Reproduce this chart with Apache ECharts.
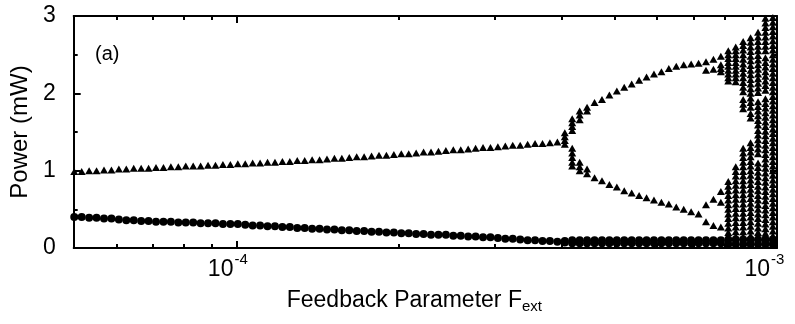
<!DOCTYPE html>
<html>
<head>
<meta charset="utf-8">
<script src="https://cdn.jsdelivr.net/npm/echarts@6/dist/echarts.min.js"></script>
<style>
html,body{margin:0;padding:0;background:#fff}
#chart{width:795px;height:324px}
</style>
</head>
<body>
<div id="chart"></div>
<script>
// Feedback parameter sweep (units of 1e-5), log-spaced
const feedbackGrid = [
  5.012, 5.173, 5.340, 5.511, 5.689, 5.872, 6.061, 6.256, 6.457, 6.665,
  6.879, 7.100, 7.329, 7.564, 7.808, 8.059, 8.318, 8.586, 8.862, 9.147,
  9.441, 9.745, 10.059, 10.382, 10.716, 11.061, 11.417, 11.784, 12.163, 12.554,
  12.958, 13.375, 13.805, 14.249, 14.707, 15.180, 15.668, 16.172, 16.692, 17.229,
  17.783, 18.355, 18.945, 19.554, 20.183, 20.832, 21.502, 22.193, 22.907, 23.644,
  24.404, 25.189, 25.999, 26.835, 27.698, 28.589, 29.508, 30.457, 31.436, 32.447,
  33.491, 34.57, 35.68, 36.83, 38.01, 39.24, 40.50, 41.80, 43.15, 44.53,
  45.97, 47.45, 48.97, 50.55, 52.17, 53.85, 55.58, 57.37, 59.21, 61.12,
  63.08, 65.11, 67.21, 69.37, 71.60, 73.90, 76.28, 78.73, 81.26, 83.88,
  86.58, 89.36, 92.24, 95.20, 98.26
];

// Power maxima on the single stable branch (sweep steps 0..65)
const stableMax = [
  0.99, 0.99, 1.00, 1.00, 1.01, 1.01, 1.02, 1.02, 1.03, 1.03,
  1.03, 1.04, 1.04, 1.05, 1.05, 1.06, 1.06, 1.06, 1.07, 1.07,
  1.08, 1.08, 1.09, 1.09, 1.10, 1.10, 1.11, 1.11, 1.12, 1.12,
  1.13, 1.13, 1.14, 1.14, 1.15, 1.16, 1.16, 1.17, 1.18, 1.18,
  1.19, 1.20, 1.20, 1.21, 1.22, 1.22, 1.23, 1.24, 1.24, 1.25,
  1.26, 1.27, 1.27, 1.28, 1.29, 1.30, 1.30, 1.31, 1.32, 1.33,
  1.33, 1.34, 1.35, 1.35, 1.36, 1.37
];

// Power minima on the stable branch (sweep steps 0..65)
const stableMin = [
  0.40, 0.40, 0.39, 0.39, 0.38, 0.38, 0.37, 0.36, 0.36, 0.35,
  0.35, 0.34, 0.34, 0.34, 0.33, 0.33, 0.33, 0.32, 0.32, 0.32,
  0.31, 0.31, 0.31, 0.30, 0.29, 0.29, 0.28, 0.28, 0.27, 0.27,
  0.26, 0.26, 0.25, 0.25, 0.24, 0.24, 0.23, 0.23, 0.22, 0.22,
  0.21, 0.21, 0.20, 0.20, 0.19, 0.19, 0.18, 0.18, 0.17, 0.17,
  0.17, 0.16, 0.16, 0.15, 0.15, 0.14, 0.14, 0.13, 0.12, 0.12,
  0.11, 0.10, 0.10, 0.09, 0.09, 0.08
];

// Maxima after the bifurcation, period-2 and period-4 (sweep steps 66..87)
const branchMax = [
  [1.49, 1.44, 1.39, 1.34],
  [1.67, 1.62, 1.57, 1.52, 1.29, 1.23, 1.17, 1.11, 1.06],
  [1.77, 1.72, 1.66, 1.11, 1.05, 1.00],
  [1.82, 1.77, 1.02, 0.96],
  [1.88, 0.91],
  [1.92, 0.87],
  [1.98, 0.82],
  [2.03, 0.79],
  [2.08, 0.74],
  [2.12, 0.71],
  [2.17, 0.68],
  [2.21, 0.65],
  [2.25, 0.62],
  [2.28, 0.59],
  [2.32, 0.57],
  [2.35, 0.53],
  [2.37, 0.50],
  [2.38, 0.47],
  [2.39, 0.44],
  [2.41, 2.30, 0.56, 0.34],
  [2.44, 2.31, 0.63, 0.29],
  [2.48, 2.37, 2.32, 2.28, 0.73, 0.59, 0.27]
];

// Maxima in the chaotic regime (sweep steps 88..94)
const chaosMax = [
  [2.55, 2.50, 2.45, 2.40, 2.35, 2.30, 2.25, 2.20, 2.16,
   0.86, 0.80, 0.74, 0.68, 0.62, 0.56, 0.50, 0.44, 0.38, 0.32, 0.26, 0.20, 0.14],
  [2.60, 2.55, 2.50, 2.45, 2.40, 2.35, 2.30, 2.25, 2.20, 2.15,
   1.05, 0.99, 0.93, 0.87, 0.81, 0.75, 0.69, 0.63, 0.57, 0.51, 0.45, 0.39, 0.33, 0.27, 0.21, 0.15],
  [2.67, 2.62, 2.56, 2.50, 2.44, 2.38, 2.32, 2.26, 2.20, 2.14, 2.08, 2.02,
   1.92, 1.86, 1.80,
   1.29, 1.23, 1.17, 1.11, 1.05, 0.99, 0.93, 0.87, 0.81, 0.75, 0.69, 0.63, 0.57, 0.51, 0.45,
   0.39, 0.33, 0.27, 0.21, 0.15],
  [2.72, 2.66, 2.60, 2.54, 2.48, 2.42, 2.36, 2.30, 2.24, 2.18, 2.12, 2.06, 2.00, 1.94, 1.88, 1.82,
   1.74, 1.68,
   1.36, 1.30, 1.24, 1.18, 1.12, 1.06, 1.00, 0.94, 0.88, 0.82, 0.76, 0.70, 0.64, 0.58, 0.52,
   0.46, 0.40, 0.34, 0.28, 0.22, 0.16],
  [2.79, 2.73, 2.67, 2.61, 2.55, 2.49, 2.43, 2.37, 2.31, 2.25, 2.19, 2.13, 2.07, 2.01,
   1.89, 1.83, 1.77, 1.71, 1.65, 1.59, 1.52, 1.46, 1.40, 1.34, 1.28, 1.22,
   1.10, 1.04, 0.98, 0.92, 0.86, 0.80, 0.74, 0.68, 0.62, 0.56, 0.50, 0.44, 0.38, 0.32, 0.26, 0.20, 0.14],
  [2.97, 2.91, 2.85, 2.79, 2.73, 2.67, 2.61, 2.55,
   2.46, 2.40, 2.34, 2.28, 2.22, 2.16, 2.10, 2.04,
   1.93, 1.87, 1.81, 1.75, 1.69, 1.63, 1.57, 1.51, 1.45, 1.39, 1.33, 1.27, 1.21, 1.15, 1.09,
   1.03, 0.97, 0.91, 0.85, 0.79, 0.73, 0.67, 0.61, 0.55, 0.49, 0.43, 0.37, 0.31, 0.25, 0.19, 0.13],
  [2.98, 2.92, 2.86, 2.80, 2.74, 2.68, 2.62, 2.56, 2.50, 2.44, 2.38, 2.32, 2.26, 2.20, 2.14,
   2.08, 2.02, 1.96, 1.90, 1.84, 1.78, 1.72, 1.66, 1.60, 1.54, 1.48, 1.42, 1.36, 1.30, 1.24,
   1.18, 1.12, 1.06, 1.00, 0.94, 0.88, 0.82, 0.76, 0.70, 0.64, 0.58, 0.52, 0.46, 0.40, 0.34,
   0.28, 0.22, 0.16, 0.10]
];

// Minima after the bifurcation (sweep steps 66..94)
const minAfterUpper = [
  0.09, 0.10, 0.10, 0.10, 0.10, 0.10, 0.10, 0.10, 0.10, 0.10,
  0.10, 0.10, 0.10, 0.10, 0.10, 0.10, 0.10, 0.10, 0.10, 0.10,
  0.10, 0.10, 0.11, 0.11, 0.11, 0.11, 0.11, 0.11, 0.11
];
const minAfterLower = [
  0.07, 0.06, 0.06, 0.06, 0.06, 0.06, 0.06, 0.06, 0.06, 0.06,
  0.06, 0.06, 0.06, 0.06, 0.06, 0.06, 0.06, 0.06, 0.06, 0.06,
  0.06, 0.06, 0.05, 0.05, 0.05, 0.05, 0.05, 0.05, 0.05
];

// Axis ticks
const xMajorTicks = [1e-4, 1e-3];
const xMinorTicks = [6e-5, 7e-5, 8e-5, 9e-5, 2e-4, 3e-4, 4e-4, 5e-4, 6e-4, 7e-4, 8e-4, 9e-4];
const xTickBases = ['10', '10'];
const xTickExponents = ['-4', '-3'];

const FONT = '"Liberation Sans", Arial, Helvetica, sans-serif';
const SCALE = 1e-5;

const maxPoints = [];
const minPoints = [];
stableMax.forEach((p, k) => maxPoints.push([feedbackGrid[k] * SCALE, p]));
stableMin.forEach((p, k) => minPoints.push([feedbackGrid[k] * SCALE, p]));
branchMax.forEach((list, i) => list.forEach(p => maxPoints.push([feedbackGrid[66 + i] * SCALE, p])));
chaosMax.forEach((list, i) => list.forEach(p => maxPoints.push([feedbackGrid[88 + i] * SCALE, p])));
minAfterUpper.forEach((p, i) => minPoints.push([feedbackGrid[66 + i] * SCALE, p]));
minAfterLower.forEach((p, i) => minPoints.push([feedbackGrid[66 + i] * SCALE, p]));

const chart = echarts.init(document.getElementById('chart'), null, { renderer: 'canvas' });

const logAxisBase = {
  type: 'log',
  min: 5e-5,
  max: 1e-3,
  gridIndex: 0,
  splitLine: { show: false },
  minorTick: { show: false },
  minorSplitLine: { show: false },
  axisLabel: { show: false }
};

chart.setOption({
  animation: false,
  backgroundColor: '#fff',
  grid: { left: 72, right: 18, top: 16, bottom: 76, containLabel: false },
  xAxis: [
    Object.assign({}, logAxisBase, {
      position: 'bottom',
      axisLine: { show: true, lineStyle: { color: '#000', width: 2 } },
      axisTick: { show: true, inside: true, length: 7, customValues: xMajorTicks, lineStyle: { color: '#000', width: 2 } },
      name: '{t|Feedback Parameter F}{u|ext}',
      nameLocation: 'middle',
      nameGap: 41,
      nameTextStyle: {
        fontSize: 23,
        fontFamily: FONT,
        color: '#000',
        padding: [0, 22, 0, 0],
        rich: {
          t: { fontSize: 23, fontFamily: FONT, color: '#000', lineHeight: 25, verticalAlign: 'top' },
          u: { fontSize: 15, fontFamily: FONT, color: '#000', lineHeight: 15, padding: [16, 0, 0, 0], verticalAlign: 'bottom' }
        }
      }
    }),
    Object.assign({}, logAxisBase, {
      position: 'bottom',
      axisLine: { show: false },
      axisTick: { show: true, inside: true, length: 4, customValues: xMinorTicks, lineStyle: { color: '#000', width: 2 } }
    }),
    Object.assign({}, logAxisBase, {
      position: 'top',
      axisLine: { show: true, lineStyle: { color: '#000', width: 2 } },
      axisTick: { show: true, inside: true, length: 7, customValues: xMajorTicks, lineStyle: { color: '#000', width: 2 } }
    }),
    Object.assign({}, logAxisBase, {
      position: 'top',
      axisLine: { show: false },
      axisTick: { show: true, inside: true, length: 4, customValues: xMinorTicks, lineStyle: { color: '#000', width: 2 } }
    })
  ],
  yAxis: [
    {
      type: 'value',
      position: 'left',
      min: 0,
      max: 3,
      interval: 1,
      splitLine: { show: false },
      axisLine: { show: true, lineStyle: { color: '#000', width: 2 } },
      axisTick: { show: true, inside: true, length: 7, lineStyle: { color: '#000', width: 2 } },
      minorTick: { show: true, splitNumber: 2, length: 4, lineStyle: { color: '#000', width: 2 } },
      axisLabel: { fontSize: 23, fontFamily: FONT, color: '#000', margin: 18 },
      name: 'Power (mW)',
      nameLocation: 'middle',
      nameRotate: 90,
      nameGap: 40,
      nameTextStyle: { fontSize: 24, fontFamily: FONT, color: '#000' }
    },
    {
      type: 'value',
      position: 'right',
      min: 0,
      max: 3,
      interval: 1,
      splitLine: { show: false },
      axisLine: { show: true, lineStyle: { color: '#000', width: 2 } },
      axisTick: { show: true, inside: true, length: 7, lineStyle: { color: '#000', width: 2 } },
      minorTick: { show: true, splitNumber: 2, length: 4, lineStyle: { color: '#000', width: 2 } },
      axisLabel: { show: false }
    }
  ],
  series: [
    {
      name: 'maxima',
      type: 'scatter',
      xAxisIndex: 0,
      yAxisIndex: 0,
      symbol: 'triangle',
      symbolSize: [8, 7],
      itemStyle: { color: '#000', opacity: 1 },
      data: maxPoints
    },
    {
      name: 'minima',
      type: 'scatter',
      xAxisIndex: 0,
      yAxisIndex: 0,
      symbol: 'circle',
      symbolSize: 8,
      itemStyle: { color: '#000', opacity: 1 },
      data: minPoints
    }
  ]
});

// Power-of-ten tick labels (base plus raised exponent), placed from the axis scale
const axisY = chart.convertToPixel({ yAxisIndex: 0 }, 0);
const chartWidth = chart.getWidth();
const labelGraphics = [];
xMajorTicks.forEach((v, i) => {
  const tx = chart.convertToPixel({ xAxisIndex: 0 }, v);
  // keep the label inside the canvas at the right edge
  const right = Math.min(tx + 11, chartWidth - 11);
  labelGraphics.push({
    type: 'text', id: 'xb' + i, x: right - 14, y: axisY + 10,
    style: { text: xTickBases[i], fontSize: 23, fontFamily: FONT, fill: '#000', align: 'right', verticalAlign: 'top' }
  });
  labelGraphics.push({
    type: 'text', id: 'xe' + i, x: right - 13, y: axisY + 4,
    style: { text: xTickExponents[i], fontSize: 15, fontFamily: FONT, fill: '#000', align: 'left', verticalAlign: 'top' }
  });
});
labelGraphics.push({
  type: 'text', id: 'panel', x: 95, y: 44,
  style: { text: '(a)', fontSize: 20, fontFamily: FONT, fill: '#000', align: 'left', verticalAlign: 'top' }
});
chart.setOption({ graphic: labelGraphics });
</script>
</body>
</html>
